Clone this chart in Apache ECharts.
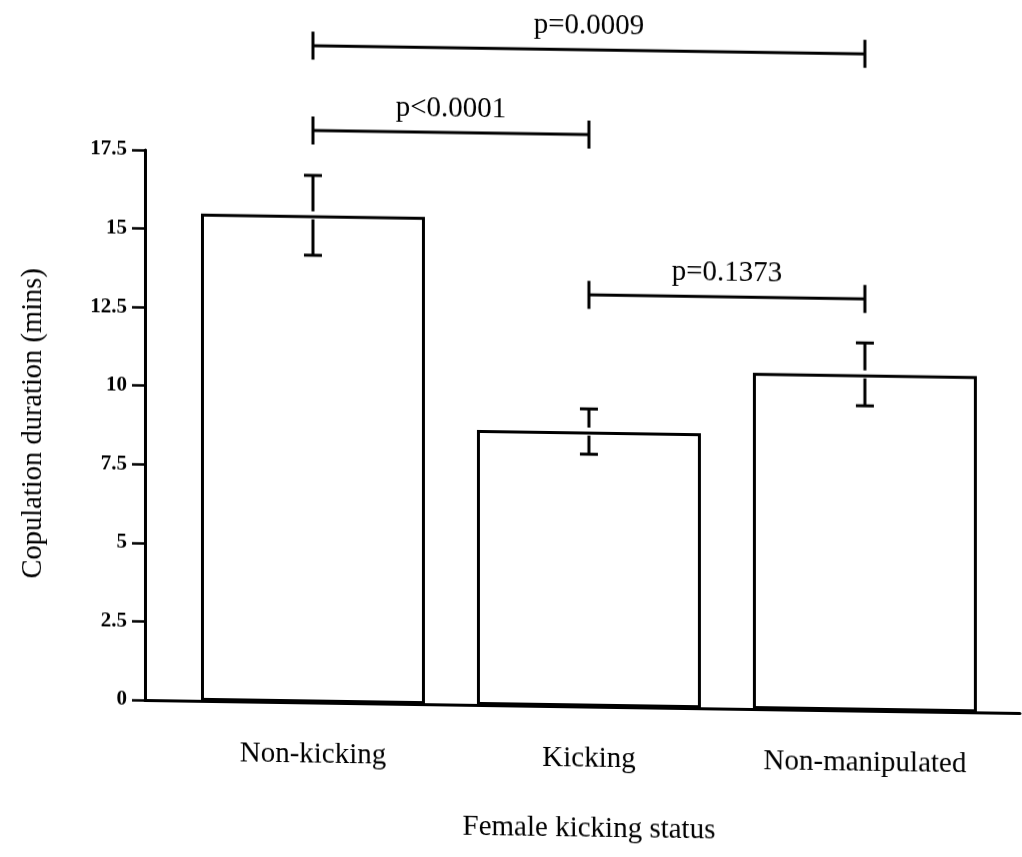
<!DOCTYPE html>
<html>
<head>
<meta charset="utf-8">
<title>Copulation duration by female kicking status</title>
<script src="https://cdn.jsdelivr.net/npm/echarts@6/dist/echarts.min.js"></script>
<style>
  html, body { margin: 0; padding: 0; background: #fff; }
  /* the printed figure sits slightly sheared on the page */
  #chart { width: 1022px; height: 857px; transform: skewY(0.85deg); transform-origin: 145px 700px; }
</style>
</head>
<body>
<div id="chart"></div>
<script>
// Group labels and mean copulation duration (mins) with standard errors
const categories = ['Non-kicking', 'Kicking', 'Non-manipulated'];
const meanDuration = [15.5, 8.75, 10.7];
const stdError = [1.27, 0.72, 1.0];

// Y-axis ticks (mins)
const yTickValues = [0, 2.5, 5, 7.5, 10, 12.5, 15, 17.5];

// Pairwise comparisons: group indices, p-value text, bracket level (mins)
const pairFrom = [0, 0, 1];
const pairTo = [2, 1, 2];
const pLabels = ['p=0.0009', 'p<0.0001', 'p=0.1373'];
const bracketLevel = [20.9, 18.2, 13.1];

const serif = "'Liberation Serif', 'Times New Roman', serif";
const ink = '#000';
const textSize = 29;

// shared vertical scale for both grids
const axisBottomPx = 700;
const axisTopPx = 150;
const yMax = yTickValues[yTickValues.length - 1];
const yStep = yTickValues[1] - yTickValues[0];
const pxPerUnit = (axisBottomPx - axisTopPx) / yMax;
const plotMax = 22;
const plotTop = axisBottomPx - plotMax * pxPerUnit;

const errorData = categories.map((c, i) => [i, meanDuration[i], meanDuration[i] - stdError[i], meanDuration[i] + stdError[i]]);
const bracketData = pLabels.map((p, i) => [pairFrom[i], pairTo[i], bracketLevel[i], p]);

const chart = echarts.init(document.getElementById('chart'), null, { renderer: 'canvas' });

chart.setOption({
  backgroundColor: '#fff',
  animation: false,
  grid: [
    // bars, error bars and comparison brackets
    { left: 175, right: 19, top: plotTop, bottom: 857 - axisBottomPx, outerBoundsMode: 'none' },
    // axis frame
    { left: 145, right: 2, top: axisTopPx, bottom: 857 - axisBottomPx, outerBoundsMode: 'none' }
  ],
  xAxis: [
    {
      gridIndex: 0,
      type: 'category',
      data: categories,
      boundaryGap: true,
      axisLine: { show: false },
      axisTick: { show: false },
      axisLabel: { margin: 38, color: ink, fontFamily: serif, fontSize: textSize },
      name: 'Female kicking status',
      nameLocation: 'middle',
      nameGap: 108,
      nameTextStyle: { color: ink, fontFamily: serif, fontSize: textSize }
    },
    {
      gridIndex: 1,
      type: 'value',
      min: 0,
      max: 1,
      axisLine: { show: true, lineStyle: { color: ink, width: 3 } },
      axisTick: { show: false },
      axisLabel: { show: false },
      splitLine: { show: false }
    }
  ],
  yAxis: [
    {
      gridIndex: 0,
      type: 'value',
      min: 0,
      max: plotMax,
      show: false
    },
    {
      gridIndex: 1,
      type: 'value',
      min: yTickValues[0],
      max: yMax,
      interval: yStep,
      axisLine: { show: true, lineStyle: { color: ink, width: 3 } },
      axisTick: { show: true, inside: false, length: 13, lineStyle: { color: ink, width: 2.5 } },
      axisLabel: { margin: 18, color: ink, fontFamily: serif, fontSize: 21, fontWeight: 'bold' },
      splitLine: { show: false },
      name: 'Copulation duration (mins)',
      nameLocation: 'middle',
      nameGap: 97,
      nameTextStyle: { color: ink, fontFamily: serif, fontSize: 28.5 }
    }
  ],
  series: [
    {
      name: 'Mean duration',
      type: 'bar',
      xAxisIndex: 0,
      yAxisIndex: 0,
      data: meanDuration,
      barWidth: 224,
      itemStyle: { color: '#fff', borderColor: ink, borderWidth: 3 },
      z: 2
    },
    {
      name: 'Standard error',
      type: 'custom',
      xAxisIndex: 0,
      yAxisIndex: 0,
      data: errorData,
      z: 3,
      renderItem: function (params, api) {
        const x = api.coord([api.value(0), 0])[0];
        const yMean = api.coord([api.value(0), api.value(1)])[1];
        const yLow = api.coord([api.value(0), api.value(2)])[1];
        const yHigh = api.coord([api.value(0), api.value(3)])[1];
        const cap = 9;
        const gap = 4;
        const style = { stroke: ink, lineWidth: 3, fill: null };
        return {
          type: 'group',
          children: [
            { type: 'line', shape: { x1: x, y1: yHigh, x2: x, y2: yMean - gap }, style: style },
            { type: 'line', shape: { x1: x, y1: yMean + gap, x2: x, y2: yLow }, style: style },
            { type: 'line', shape: { x1: x - cap, y1: yHigh, x2: x + cap, y2: yHigh }, style: style },
            { type: 'line', shape: { x1: x - cap, y1: yLow, x2: x + cap, y2: yLow }, style: style }
          ]
        };
      }
    },
    {
      name: 'Comparisons',
      type: 'custom',
      xAxisIndex: 0,
      yAxisIndex: 0,
      data: bracketData,
      clip: false,
      z: 3,
      renderItem: function (params, api) {
        const p1 = api.coord([api.value(0), api.value(2)]);
        const p2 = api.coord([api.value(1), api.value(2)]);
        const label = bracketData[params.dataIndex][3];
        const tick = 14;
        const style = { stroke: ink, lineWidth: 3, fill: null };
        return {
          type: 'group',
          children: [
            { type: 'line', shape: { x1: p1[0], y1: p1[1], x2: p2[0], y2: p2[1] }, style: style },
            { type: 'line', shape: { x1: p1[0], y1: p1[1] - tick, x2: p1[0], y2: p1[1] + tick }, style: style },
            { type: 'line', shape: { x1: p2[0], y1: p2[1] - tick, x2: p2[0], y2: p2[1] + tick }, style: style },
            {
              type: 'text',
              style: {
                x: (p1[0] + p2[0]) / 2,
                y: p1[1] - 24,
                text: label,
                fill: ink,
                font: textSize + 'px ' + serif,
                align: 'center',
                verticalAlign: 'middle'
              }
            }
          ]
        };
      }
    }
  ]
});
</script>
</body>
</html>
